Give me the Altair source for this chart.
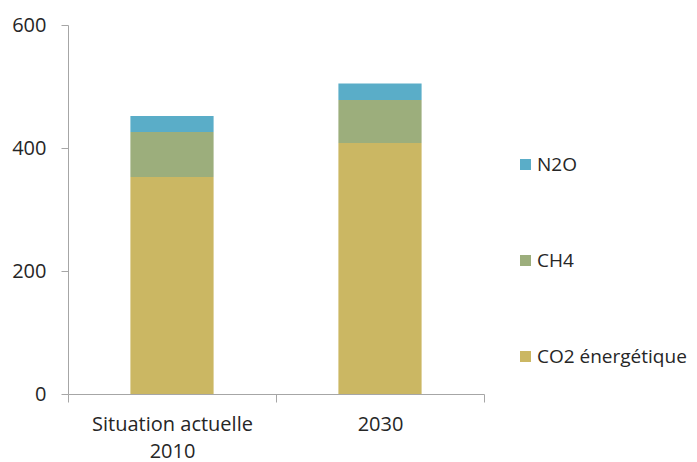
import altair as alt
import pandas as pd

# Emissions by gas for each scenario
scenarios = ["Situation actuelle 2010", "2030"]
gases = ["N2O", "CH4", "CO2 énergétique"]
co2 = [353, 408]
ch4 = [73, 70]
n2o = [26, 27]
colors = ["#5aadc8", "#9cae7c", "#cbb763"]

rows = []
for i, s in enumerate(scenarios):
    rows.append({"scenario": s, "gaz": "CO2 énergétique", "valeur": co2[i], "ordre": 0})
    rows.append({"scenario": s, "gaz": "CH4", "valeur": ch4[i], "ordre": 1})
    rows.append({"scenario": s, "gaz": "N2O", "valeur": n2o[i], "ordre": 2})
df = pd.DataFrame(rows)

FONT = "Open Sans"
FS = 20
TXT = "#262626"
AX = "#a6a6a6"

chart = (
    alt.Chart(df)
    .mark_bar(width=alt.RelativeBandSize(0.4))
    .encode(
        x=alt.X(
            "scenario:N",
            sort=scenarios,
            title=None,
            scale=alt.Scale(paddingInner=0, paddingOuter=0),
            axis=alt.Axis(
                labelAngle=0,
                tickBand="extent",
                tickSize=8,
                tickColor=AX,
                domainColor=AX,
                labelPadding=12,
                labelFontSize=FS,
                labelLineHeight=27,
                labelColor=TXT,
                labelFont=FONT,
                labelExpr="datum.value == 'Situation actuelle 2010' ? ['Situation actuelle', '2010'] : datum.label",
            ),
        ),
        y=alt.Y(
            "valeur:Q",
            stack="zero",
            title=None,
            scale=alt.Scale(domain=[0, 600], nice=False),
            axis=alt.Axis(
                values=[0, 200, 400, 600],
                grid=False,
                tickSize=7,
                tickColor=AX,
                domainColor=AX,
                labelPadding=15,
                labelFontSize=FS,
                labelColor=TXT,
                labelFont=FONT,
            ),
        ),
        color=alt.Color(
            "gaz:N",
            scale=alt.Scale(domain=gases, range=colors),
            legend=alt.Legend(
                title=None,
                orient="none",
                legendX=448,
                legendY=130,
                symbolType="square",
                symbolSize=121,
                symbolStrokeWidth=0,
                labelFontSize=19,
                labelFont=FONT,
                labelColor=TXT,
                labelOffset=2,
                rowPadding=76,
                padding=0,
            ),
        ),
        order=alt.Order("ordre:Q", sort="ascending"),
    )
    .properties(
        width=416,
        height=369,
        padding={"left": 68, "top": 25, "right": 213, "bottom": 68},
        autosize=alt.AutoSizeParams(type="none"),
    )
    .configure(background="white")
    .configure_view(stroke=None, strokeWidth=0)
)

chart.save("out.html", embed_options={"renderer": "svg", "actions": False})
